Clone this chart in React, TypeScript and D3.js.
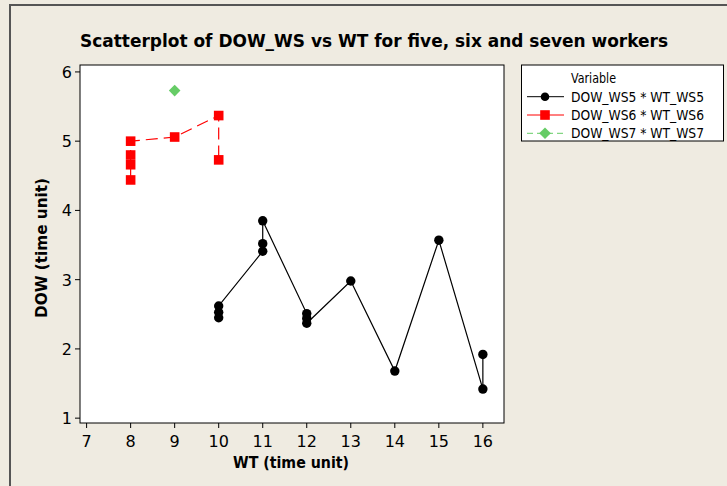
import * as React from 'react'
import * as d3 from 'd3'

// WS5 (five workers)
const ws5X = [10, 10, 10, 11, 11, 11, 12, 12, 12, 13, 14, 15, 16, 16]
const ws5Y = [2.45, 2.53, 2.62, 3.41, 3.52, 3.85, 2.51, 2.44, 2.37, 2.98, 1.68, 3.57, 1.42, 1.92]
// WS6 (six workers)
const ws6X = [8, 8, 8, 8, 9, 10, 10]
const ws6Y = [4.44, 4.66, 4.8, 5.0, 5.06, 5.37, 4.73]
// WS7 (seven workers)
const ws7X = [9]
const ws7Y = [5.73]

const xTicks = [7, 8, 9, 10, 11, 12, 13, 14, 15, 16]
const yTicks = [1, 2, 3, 4, 5, 6]
const legendLabels = ['DOW_WS5 * WT_WS5', 'DOW_WS6 * WT_WS6', 'DOW_WS7 * WT_WS7']

const W = 727
const H = 486
const plot = { left: 80, right: 504, top: 65, bottom: 423 }
const font = 'DejaVu Sans, Verdana, sans-serif'

const zip = (xs: number[], ys: number[]) => xs.map((x, i) => [x, ys[i]] as [number, number])

export default function App() {
    const x = d3.scaleLinear().domain([6.85, 16.48]).range([plot.left, plot.right])
    const y = d3.scaleLinear().domain([0.93, 6.1]).range([plot.bottom, plot.top])
    const line = d3.line<[number, number]>().x(d => x(d[0])).y(d => y(d[1]))

    const p5 = zip(ws5X, ws5Y)
    const p6 = zip(ws6X, ws6Y)
    const p7 = zip(ws7X, ws7Y)

    const square = (cx: number, cy: number, k: string | number) =>
        <rect key={k} x={cx - 4.8} y={cy - 4.8} width={9.6} height={9.6} fill='#ff0000' />
    const diamond = (cx: number, cy: number, k: string | number) =>
        <path key={k} d={`M${cx},${cy - 5.8}L${cx + 5.8},${cy}L${cx},${cy + 5.8}L${cx - 5.8},${cy}Z`} fill='#66cc66' />

    const legendRows = [96.7, 115, 133.3]

    return <svg width={W} height={H} style={{ position: 'absolute', left: 0, top: 0 }} fontFamily={font}>
        <rect width={W} height={H} fill='#efebe1' />
        {/* outer frame */}
        <path d={`M10,${H}V5H${W}`} fill='none' stroke='#555' strokeWidth={2} />

        <text x={374} y={47} textAnchor='middle' fontSize={17.5} fontWeight='bold'
            textLength={588} lengthAdjust='spacingAndGlyphs'>
            Scatterplot of DOW_WS vs WT for five, six and seven workers
        </text>

        {/* plot area */}
        <rect x={plot.left} y={plot.top} width={plot.right - plot.left} height={plot.bottom - plot.top}
            fill='#ffffff' stroke='#000' strokeWidth={1} />

        {yTicks.map(t => <g key={'y' + t}>
            <line x1={plot.left - 5} x2={plot.left} y1={y(t)} y2={y(t)} stroke='#000' />
            <text x={plot.left - 8} y={y(t) + 6} textAnchor='end' fontSize={16}>{t}</text>
        </g>)}
        {xTicks.map(t => <g key={'x' + t}>
            <line x1={x(t)} x2={x(t)} y1={plot.bottom} y2={plot.bottom + 5} stroke='#000' />
            <text x={x(t)} y={plot.bottom + 24} textAnchor='middle' fontSize={16}>{t}</text>
        </g>)}

        <text x={291} y={468} textAnchor='middle' fontSize={15.5} fontWeight='bold'
            textLength={116} lengthAdjust='spacingAndGlyphs'>WT (time unit)</text>
        <text transform='translate(47,248) rotate(-90)' textAnchor='middle' fontSize={15.5} fontWeight='bold'
            textLength={140} lengthAdjust='spacingAndGlyphs'>DOW (time unit)</text>

        {/* series */}
        <path d={line(p5) || ''} fill='none' stroke='#000' strokeWidth={1.2} />
        <path d={line(p6) || ''} fill='none' stroke='#ff0000' strokeWidth={1.2} strokeDasharray='12,6' />
        {p5.map((d, i) => <circle key={'c' + i} cx={x(d[0])} cy={y(d[1])} r={4.7} fill='#000' />)}
        {p6.map((d, i) => square(x(d[0]), y(d[1]), 's' + i))}
        {p7.map((d, i) => diamond(x(d[0]), y(d[1]), 'd' + i))}

        {/* legend */}
        <rect x={521.5} y={65} width={202} height={76} fill='#fff' stroke='#000' strokeWidth={1} />
        <text x={571} y={83} fontSize={13.5} textLength={45} lengthAdjust='spacingAndGlyphs'>Variable</text>
        <line x1={527} x2={564} y1={legendRows[0]} y2={legendRows[0]} stroke='#000' />
        <circle cx={545} cy={legendRows[0]} r={4.3} fill='#000' />
        <line x1={527} x2={564} y1={legendRows[1]} y2={legendRows[1]} stroke='#ff0000' />
        {square(545, legendRows[1], 'ls')}
        <line x1={527} x2={564} y1={legendRows[2]} y2={legendRows[2]} stroke='#66cc66' strokeDasharray='6,4' />
        {diamond(545, legendRows[2], 'ld')}
        {legendLabels.map((l, i) =>
            <text key={l} x={571} y={legendRows[i] + 5} fontSize={13.5}
                textLength={133} lengthAdjust='spacingAndGlyphs'>{l}</text>)}
    </svg>
}
